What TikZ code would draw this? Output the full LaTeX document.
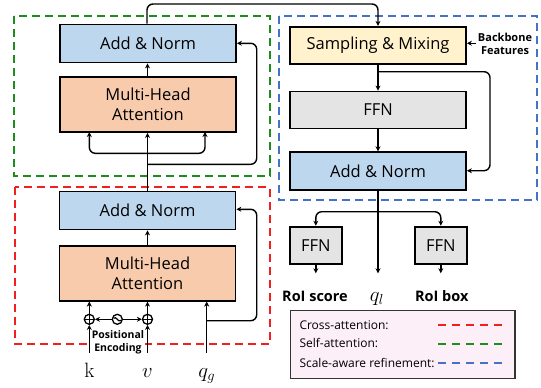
\documentclass[tikz,border=0pt]{standalone}
\usepackage{amsmath}
\usepackage[no-math]{fontspec}
\setmainfont{Open Sans}
\usetikzlibrary{arrows.meta}
\definecolor{anblue}{HTML}{BDD7EE}
\definecolor{mhaorange}{HTML}{F8CBAD}
\definecolor{smyellow}{HTML}{FFF2CC}
\definecolor{ffngray}{HTML}{E4E4E4}
\definecolor{dgreen}{HTML}{1E8C1E}
\definecolor{dred}{HTML}{F02020}
\definecolor{dblue}{HTML}{4472C4}
\definecolor{legpink}{HTML}{FDEFF8}
\tikzset{
  box/.style={draw=black, line width=1.8pt, inner sep=0pt, font=\fontsize{16.5}{20}\selectfont, align=center},
  wbox/.style={box, minimum width=176pt},
  arr/.style={line width=1.4pt, -{Stealth[length=5pt,width=5pt]}, rounded corners=6pt},
  dbox/.style={line width=1.8pt, dash pattern=on 8pt off 5pt},
  dleg/.style={line width=2pt, dash pattern=on 8pt off 6pt},
  bold/.style={font=\bfseries\fontsize{14.5}{17}\selectfont},
  mathlbl/.style={anchor=base, font=\fontsize{22}{24}\selectfont},
  opl/.style={circle, draw, line width=1.3pt, minimum size=10pt, inner sep=0pt, fill=white},
}
\begin{document}
\begin{tikzpicture}[x=1pt,y=-1pt]
\useasboundingbox (0,0) rectangle (541,388);
% dashed groups
\draw[dbox, dgreen] (14,15.7) rectangle (270,175.7);
\draw[dbox, dred] (15,187.3) rectangle (270,344);
\draw[dbox, dblue] (279,15.7) rectangle (536.7,200);
% left column
\node[wbox, fill=anblue, minimum height=38pt] (an1) at (148,43.5) {Add \& Norm};
\node[wbox, fill=mhaorange, minimum height=55pt] (mha1) at (148,104.5) {Multi-Head\\Attention};
\node[wbox, fill=anblue, minimum height=38pt] (an2) at (147.5,210.5) {Add \& Norm};
\node[wbox, fill=mhaorange, minimum height=55pt] (mha2) at (147.5,273.2) {Multi-Head\\Attention};
% right column
\node[wbox, fill=smyellow, minimum height=37pt] (sm) at (378,45.3) {Sampling \& Mixing};
\node[wbox, fill=ffngray, minimum height=37pt] (ffn) at (378,110) {FFN};
\node[wbox, fill=anblue, minimum height=38pt] (an3) at (378,171.2) {Add \& Norm};
\node[box, fill=ffngray, minimum width=51.7pt, minimum height=37.3pt] (f1) at (315.8,245.3) {FFN};
\node[box, fill=ffngray, minimum width=51.7pt, minimum height=37.3pt] (f2) at (440.8,245.3) {FFN};
% texts
\node[font=\bfseries\fontsize{11}{13.5}\selectfont, align=center, inner sep=0pt] (bb) at (505,44) {Backbone\\Features};
\node[bold, anchor=base] (rs) at (315,301) {RoI score};
\node[mathlbl] (ql) at (377,301) {$q_l$};
\node[bold, anchor=base] (rb) at (441.7,301) {RoI box};
\node[mathlbl] (k) at (89.3,377) {$\mathrm{k}$};
\node[mathlbl] (v) at (147.5,377) {$v$};
\node[mathlbl] (qg) at (206.7,377) {$q_g$};
% coordinates
\coordinate (kb) at (89.3,352.7);
\coordinate (vb) at (147.5,352.7);
\coordinate (qb) at (206.7,352.7);
\coordinate (qlend) at (378,273.3);
\coordinate (f1end) at (315.8,273.3);
\coordinate (f2end) at (440.8,273.3);
% positional encoding
\node[fill=white, inner sep=0.5pt, font=\bfseries\fontsize{10.5}{13}\selectfont, align=center] (pe) at (118,342) {Positional\\Encoding};
\node[opl] (pk) at (89.3,319.3) {};
\node[opl] (pv) at (147.5,319.3) {};
\node[opl] (pe0) at (117.3,319.3) {};
\draw[line width=1.2pt] ([xshift=-3.5pt,yshift=1pt]pe0.center) .. controls ([xshift=-1pt,yshift=4pt]pe0.center) and ([xshift=1pt,yshift=-4pt]pe0.center) .. ([xshift=3.5pt,yshift=-1pt]pe0.center);
\foreach \c in {pk,pv}{
  \draw[line width=1.2pt] (\c.north) -- (\c.south) (\c.west) -- (\c.east);
}
\draw[arr] (pe0) -- (pk);
\draw[arr] (pe0) -- (pv);
\draw[arr] (kb) -- (pk);
\draw[arr] (vb) -- (pv);
\draw[arr] (pk) -- (pk |- mha2.south);
\draw[arr] (pv) -- (pv |- mha2.south);
\draw[arr] (qb) -- (qb |- mha2.south);
\draw[arr] (206.7,320.7) -- (256.7,320.7) -- (256.7,209.3) -- (an2.east |- 0,209.3);
\draw[arr] (mha2.north -| 147.5,0) -- (an2.south -| 147.5,0);
% middle
\draw[arr] (an2.north -| 147.5,0) -- (mha1.south -| 147.5,0);
\draw[arr] (147.5,153.3) -- (89.3,153.3) -- (89.3,132);
\draw[arr] (147.5,153.3) -- (205,153.3) -- (205,132);
\draw[arr] (147.5,164.3) -- (256.7,164.3) -- (256.7,43.3) -- (an1.east |- 0,43.3);
\draw[arr] (mha1.north -| 147.5,0) -- (an1.south -| 147.5,0);
% top connector
\draw[arr] (an1.north -| 147,0) -- (147,4) -- (378,4) -- (sm.north);
% right column
\draw[arr] (bb.west |- 0,43.3) ++(-2,0) -- (sm.east |- 0,43.3);
\draw[arr] (sm.south) -- (ffn.north);
\draw[arr] (ffn.south) -- (an3.north);
\draw[arr] (378,71.7) -- (490,71.7) -- (490,170.7) -- (an3.east |- 0,170.7);
\draw[arr] (an3.south) -- (qlend);
\draw[arr] (378,211.7) -- (315.8,211.7) -- (f1.north);
\draw[arr] (378,211.7) -- (440.8,211.7) -- (f2.north);
\draw[arr] (f1.south) -- (f1end);
\draw[arr] (f2.south) -- (f2end);
% legend
\node[draw=black!80, line width=1.2pt, fill=legpink, minimum width=224.3pt, minimum height=67.6pt, inner sep=0pt] (leg) at (402.85,344.5) {};
\begin{scope}[font=\fontsize{12}{14}\selectfont]
\node[anchor=base west, inner sep=0pt] (l1) at (299.3,329) {Cross-attention:};
\node[anchor=base west, inner sep=0pt] (l2) at (299.3,347.5) {Self-attention:};
\node[anchor=base west, inner sep=0pt] (l3) at (299.3,367.5) {Scale-aware refinement:};
\end{scope}
\coordinate (d1a) at (438,325); \coordinate (d1b) at (502,325);
\coordinate (d2a) at (438,344); \coordinate (d2b) at (502,344);
\coordinate (d3a) at (438,363.3); \coordinate (d3b) at (502,363.3);
\draw[dleg, dred] (d1a) -- (d1b);
\draw[dleg, dgreen] (d2a) -- (d2b);
\draw[dleg, dblue] (d3a) -- (d3b);
\end{tikzpicture}
\end{document}
